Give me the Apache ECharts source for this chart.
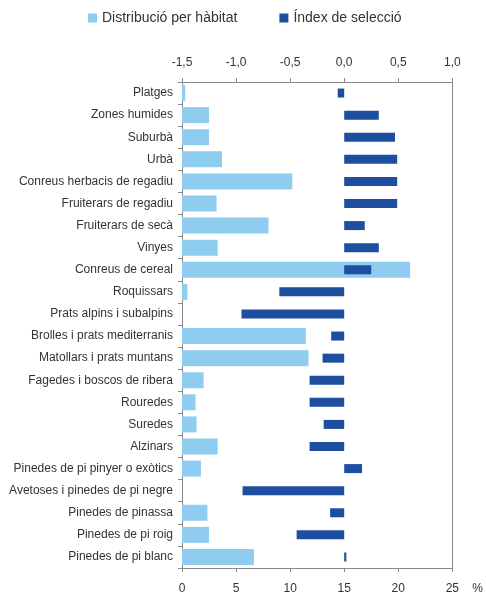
<!DOCTYPE html>
<html>
<head>
<meta charset="utf-8">
<script src="https://cdn.jsdelivr.net/npm/echarts@6/dist/echarts.min.js"></script>
<style>
  html, body { margin: 0; padding: 0; background: #fff; }
  #chart { width: 486px; height: 599px; }
</style>
</head>
<body>
<div id="chart"></div>
<script>
const habitats = [
  'Platges', 'Zones humides', 'Suburbà', 'Urbà', 'Conreus herbacis de regadiu',
  'Fruiterars de regadiu', 'Fruiterars de secà', 'Vinyes', 'Conreus de cereal',
  'Roquissars', 'Prats alpins i subalpins', 'Brolles i prats mediterranis',
  'Matollars i prats muntans', 'Fagedes i boscos de ribera', 'Rouredes', 'Suredes',
  'Alzinars', 'Pinedes de pi pinyer o exòtics', 'Avetoses i pinedes de pi negre',
  'Pinedes de pinassa', 'Pinedes de pi roig', 'Pinedes de pi blanc'
];

// % distribució per hàbitat (eix inferior)
const distribucio = [
  0.3, 2.5, 2.5, 3.7, 10.2,
  3.2, 8.0, 3.3, 21.1,
  0.5, 0, 11.45,
  11.7, 2.0, 1.25, 1.35,
  3.3, 1.75, 0,
  2.35, 2.5, 6.65
];

// índex de selecció (eix superior)
const indexSeleccio = [
  -0.06, 0.32, 0.47, 0.49, 0.49,
  0.49, 0.19, 0.32, 0.25,
  -0.6, -0.95, -0.12,
  -0.2, -0.32, -0.32, -0.19,
  -0.32, 0.165, -0.94,
  -0.13, -0.44, 0.02
];

const bottomTicks = [0, 25, 5];      // min, max, interval
const topTicks = [-1.5, 1.0, 0.5];

const axisGrey = '#8a8a8a';
const textColor = '#333';
const font = 'Liberation Sans, Arial, sans-serif';

const chart = echarts.init(document.getElementById('chart'));

chart.setOption({
  animation: false,
  textStyle: { fontFamily: font },
  legend: {
    left: 83,
    top: 6,
    icon: 'rect',
    itemWidth: 9,
    itemHeight: 9,
    itemGap: 42,
    textStyle: { fontSize: 14, color: textColor, fontFamily: font },
    data: ['Distribució per hàbitat', 'Índex de selecció']
  },
  grid: {
    left: 182,
    right: 30,
    top: 82,
    bottom: 31
  },
  xAxis: [
    {
      type: 'value',
      position: 'bottom',
      min: bottomTicks[0],
      max: bottomTicks[1],
      interval: bottomTicks[2],
      splitLine: { show: false },
      axisLine: { show: true, lineStyle: { color: axisGrey, width: 1 } },
      axisTick: { show: true, length: 4, lineStyle: { color: axisGrey } },
      axisLabel: { color: textColor, fontSize: 12, margin: 15 },
      name: '%',
      nameLocation: 'end',
      nameGap: 20,
      nameTextStyle: {
        color: textColor, fontSize: 12, align: 'left',
        verticalAlign: 'top', padding: [15, 0, 0, 0]
      }
    },
    {
      type: 'value',
      position: 'top',
      min: topTicks[0],
      max: topTicks[1],
      interval: topTicks[2],
      splitLine: { show: false },
      axisLine: { show: true, onZero: false, lineStyle: { color: axisGrey, width: 1 } },
      axisTick: { show: true, length: 4, lineStyle: { color: axisGrey } },
      axisLabel: {
        color: textColor, fontSize: 12, margin: 13,
        formatter: v => v.toFixed(1).replace('.', ',')
      }
    }
  ],
  yAxis: [
    {
      type: 'category',
      inverse: true,
      data: habitats,
      axisLine: { show: true, onZero: false, lineStyle: { color: axisGrey, width: 1 } },
      axisTick: { show: true, length: 4, alignWithLabel: false, lineStyle: { color: axisGrey } },
      axisLabel: { color: textColor, fontSize: 12, margin: 9 }
    },
    {
      type: 'category',
      inverse: true,
      position: 'right',
      data: habitats,
      axisLine: { show: true, onZero: false, lineStyle: { color: axisGrey, width: 1 } },
      axisTick: { show: false },
      axisLabel: { show: false }
    }
  ],
  series: [
    {
      name: 'Distribució per hàbitat',
      type: 'bar',
      xAxisIndex: 0,
      yAxisIndex: 0,
      barWidth: 16,
      itemStyle: { color: '#8fcdf0' },
      data: distribucio
    },
    {
      name: 'Índex de selecció',
      type: 'bar',
      xAxisIndex: 1,
      yAxisIndex: 1,
      barWidth: 9,
      itemStyle: { color: '#1d4e9f' },
      data: indexSeleccio
    }
  ]
});
</script>
</body>
</html>
